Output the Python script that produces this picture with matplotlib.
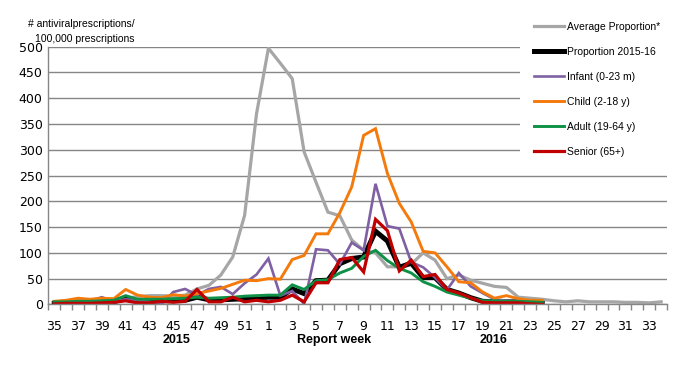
import matplotlib
matplotlib.use('Agg')
import matplotlib.pyplot as plt
import matplotlib.transforms as mtransforms

# report weeks: 35..52 of 2015, then 1..34 of 2016
weeks = list(range(35, 53)) + list(range(1, 35))

avg_proportion = [5, 6, 8, 9, 10, 10, 12, 15, 17, 17, 16, 18, 30, 37, 57, 92, 173, 370,
                  497, 468, 438, 296, 237, 179, 172, 125, 105, 100, 73, 73, 78, 100, 86, 50,
                  57, 47, 41, 35, 33, 14, 12, 10, 7, 5, 7, 5, 5, 5, 4, 4, 3, 5]

# the season series stop at week 24 of 2016
prop_2015_16 = [2, 2, 3, 3, 4, 5, 12, 6, 6, 7, 8, 8, 14, 9, 9, 10, 11, 13,
                14, 14, 30, 21, 46, 47, 79, 89, 92, 142, 123, 72, 80, 52, 52, 29,
                22, 13, 6, 5, 5, 5, 3, 2]
infant = [3, 4, 6, 7, 14, 6, 10, 8, 5, 0, 24, 30, 18, 30, 34, 20, 41, 58,
          89, 17, 26, 1, 107, 105, 78, 120, 105, 234, 152, 147, 82, 72, 52, 28,
          61, 35, 22, 10, 7, 6, 5, 5]
child = [6, 8, 12, 10, 12, 11, 29, 18, 14, 13, 19, 16, 21, 26, 31, 39, 47, 46,
         50, 49, 87, 95, 137, 137, 178, 228, 328, 341, 254, 196, 160, 103, 100, 73,
         44, 42, 24, 12, 17, 11, 8, 8]
adult = [5, 5, 6, 6, 7, 8, 17, 10, 10, 10, 11, 12, 14, 12, 13, 14, 16, 17,
         18, 18, 38, 29, 46, 48, 61, 70, 93, 105, 85, 70, 61, 44, 35, 24,
         18, 12, 7, 7, 6, 6, 5, 4]
senior = [1, 2, 2, 2, 3, 4, 7, 3, 3, 6, 4, 6, 29, 5, 5, 14, 5, 8,
          5, 8, 18, 5, 42, 42, 87, 91, 63, 165, 143, 65, 86, 54, 58, 29,
          22, 13, 4, 3, 3, 3, 1, 0]

series = [
    ('Average Proportion*', avg_proportion, '#A6A6A6', 2.3),
    ('Proportion 2015-16', prop_2015_16, '#000000', 3.6),
    ('Infant (0-23 m)', infant, '#7F60A2', 1.9),
    ('Child (2-18 y)', child, '#F57A0C', 2.1),
    ('Adult (19-64 y)', adult, '#0E9146', 2.1),
    ('Senior (65+)', senior, '#C00000', 2.3),
]

fig = plt.figure(figsize=(6.8, 3.65), dpi=100)
fig.patch.set_facecolor('#FFFFFF')
ax = fig.add_axes([0.071, 0.166, 0.910, 0.706])

for label, vals, color, lw in series:
    ax.plot(range(len(vals)), vals, color=color, lw=lw, label=label,
            solid_joinstyle='miter')

ax.set_xlim(-0.5, len(weeks) - 0.5)
ax.set_ylim(0, 500)
ax.set_yticks(range(0, 501, 50))
ax.grid(axis='y', color='#868686', lw=1)
ax.set_axisbelow(True)

pos = list(range(0, len(weeks), 2))
ax.set_xticks(pos)
ax.set_xticklabels([str(weeks[p]) for p in pos])
ax.set_xticks([i - 0.5 for i in range(len(weeks) + 1)], minor=True)
ax.tick_params(axis='x', which='major', length=0, pad=11, labelsize=9)
ax.tick_params(axis='x', which='minor', length=4, color='#868686', width=1)
ax.tick_params(axis='y', length=0, pad=4, labelsize=9)

for s in ['top', 'right']:
    ax.spines[s].set_visible(False)
for s in ['left', 'bottom']:
    ax.spines[s].set_color('#868686')
    ax.spines[s].set_linewidth(1)

# year / axis labels under the ticks
trans = mtransforms.blended_transform_factory(ax.transData, fig.transFigure)
ax.text(10.3, 0.068, '2015', transform=trans, ha='center', va='center',
        fontsize=9, fontweight='bold', family='Liberation Sans')
ax.text(23.5, 0.068, 'Report week', transform=trans, ha='center', va='center',
        fontsize=9, fontweight='bold', family='Liberation Sans')
ax.text(36.9, 0.068, '2016', transform=trans, ha='center', va='center',
        fontsize=9, fontweight='bold', family='Liberation Sans')

fig.text(28 / 680, 1 - 24 / 365, '# antiviralprescriptions/', ha='left', va='center',
         fontsize=7.5, family='Liberation Sans')
fig.text(35 / 680, 1 - 39 / 365, '100,000 prescriptions', ha='left', va='center',
         fontsize=7.5, family='Liberation Sans')

leg = ax.legend(loc='upper left', bbox_to_anchor=(520 / 680, 1 - 8 / 365),
                bbox_transform=fig.transFigure, frameon=True, fancybox=False,
                prop={'family': 'Liberation Sans', 'size': 7.5},
                handlelength=2.9, handletextpad=0.3, labelspacing=1.45,
                borderpad=1.3, borderaxespad=0)
leg.get_frame().set_facecolor('#FFFFFF')
leg.get_frame().set_edgecolor('none')
leg.get_frame().set_alpha(1)
leg.set_zorder(10)

fig.savefig('out.png', dpi=100)
